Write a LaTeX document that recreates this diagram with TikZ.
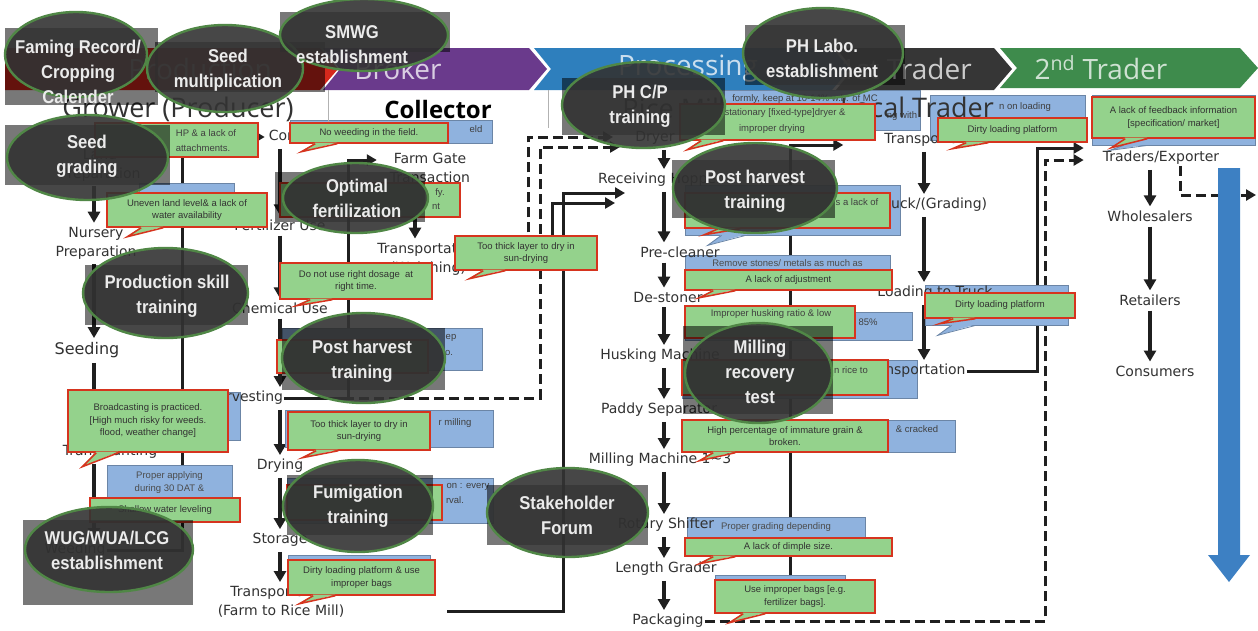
\documentclass[tikz,border=0pt]{standalone}
\usepackage{fontspec}
\setmainfont{DejaVu Sans}
\newfontfamily\stagefont{DejaVu Sans}
\newfontfamily\headfont{Open Sans}
\newfontfamily\ovalfont[FakeStretch=0.9]{Liberation Sans}
\newfontfamily\notefont{Liberation Sans}
\usetikzlibrary{arrows.meta,shapes.geometric,calc}

\definecolor{bandred}{RGB}{214,40,28}
\definecolor{bandpurple}{RGB}{106,58,140}
\definecolor{bandblue}{RGB}{46,127,189}
\definecolor{banddark}{RGB}{54,54,54}
\definecolor{bandgreen}{RGB}{62,139,76}
\definecolor{notegreen}{RGB}{148,210,140}
\definecolor{notered}{RGB}{214,52,30}
\definecolor{boxblue}{RGB}{143,178,222}
\definecolor{ovalfill}{RGB}{51,51,51}
\definecolor{ovalrim}{RGB}{80,135,70}
\definecolor{rectgrey}{RGB}{120,120,120}
\definecolor{arrowblue}{RGB}{61,128,195}
\definecolor{inkgrey}{RGB}{50,50,50}

\pgfdeclarelayer{bg}
\pgfdeclarelayer{lines}
\pgfsetlayers{bg,lines,main}

\tikzset{
  stage/.style={font=\stagefont\fontsize{14}{19}\selectfont, text=inkgrey, align=center, inner sep=1pt},
  flow/.style={draw=black!88, line width=3.2pt, -{Triangle[width=12pt,length=11pt]}, shorten <=4pt, shorten >=3pt},
  link/.style={draw=black!88, line width=3pt},
  linkarrow/.style={link, -{Triangle[width=11pt,length=10pt]}},
  dashlink/.style={link, dash pattern=on 10pt off 5pt},
  dasharrow/.style={dashlink, -{Triangle[width=11pt,length=10pt]}},
  greenbox/.style={rectangle, fill=notegreen, draw=notered, line width=1.5pt, inner sep=1pt,
    font=\notefont\fontsize{9.5}{12.5}\selectfont, text=black!80, align=center},
  bluebox/.style={rectangle, fill=boxblue, draw=boxblue!75!black, line width=0.8pt, inner sep=1pt,
    font=\notefont\fontsize{9.5}{12.5}\selectfont, text=black!70, align=center},
  notetext/.style={font=\notefont\fontsize{9.5}{12.5}\selectfont, text=black!75, align=center, inner sep=0pt},
  greyshade/.style={rectangle, fill=rectgrey, inner sep=0pt},
  oval/.style={ellipse, fill=ovalfill, fill opacity=0.9, draw=ovalrim, draw opacity=1, line width=2.4pt, inner sep=0pt},
  ovaltext/.style={font=\ovalfont\bfseries\fontsize{18.5}{25}\selectfont, text=white!92!black, align=center, inner sep=0pt},
  bandtext/.style={font=\headfont\fontsize{28}{30}\selectfont, text=white, text opacity=0.75, inner sep=0pt},
  headtext/.style={font=\headfont\fontsize{27}{30}\selectfont, text=inkgrey, inner sep=0pt},
}

% note boxes, their pointer tails, grey panels and ovals
\newcommand{\bluenote}[6]{\node[bluebox, minimum width=#4pt, minimum height=#5pt] (#1) at (#2,#3) {#6};}
\newcommand{\bluetail}[3]{%
  \fill[boxblue] ($(#1.south west)+(#2+14,-1)$) -- ($(#1.south west)+(#2,#3)$) -- ($(#1.south west)+(#2+38,-1)$) -- cycle;
  \draw[boxblue!75!black, line width=0.8pt] ($(#1.south west)+(#2+14,0)$) -- ($(#1.south west)+(#2,#3)$) -- ($(#1.south west)+(#2+38,0)$);}
\newcommand{\greennote}[6]{\node[greenbox, minimum width=#4pt, minimum height=#5pt] (#1) at (#2,#3) {#6};}
\newcommand{\greentail}[3]{%
  \fill[notegreen] ($(#1.south west)+(#2+14,-1.2)$) -- ($(#1.south west)+(#2,#3)$) -- ($(#1.south west)+(#2+36,-1.2)$) -- cycle;
  \draw[notered, line width=1.5pt] ($(#1.south west)+(#2+14,0)$) -- ($(#1.south west)+(#2,#3)$) -- ($(#1.south west)+(#2+36,0)$);}
\newcommand{\shadebox}[5]{\node[greyshade, minimum width=#4pt, minimum height=#5pt] (#1) at (#2,#3) {};}
\newcommand{\ovalnode}[5]{\node[oval, minimum width=#4pt, minimum height=#5pt] (#1) at (#2,#3) {};}

\begin{document}
\begin{tikzpicture}[x=1pt,y=-1pt]
\begin{pgfonlayer}{bg}
  \fill[white] (0,0) rectangle (1258,630);
\end{pgfonlayer}
\useasboundingbox (0,0) rectangle (1258,630);

% ---------- stage banner ----------
\fill[bandred] (5,48) -- (320,48) -- (338,69) -- (320,90) -- (5,90) -- cycle;
\fill[bandpurple] (323,48) -- (529,48) -- (547,69) -- (529,90) -- (323,90) -- (340,69) -- cycle;
\fill[bandblue] (534,48) -- (832,48) -- (850,69) -- (832,90) -- (534,90) -- (551,69) -- cycle;
\fill[banddark] (836,48) -- (994,48) -- (1012,69) -- (994,90) -- (836,90) -- (853,69) -- cycle;
\fill[bandgreen] (1000,48) -- (1240,48) -- (1258,68) -- (1240,88) -- (1000,88) -- (1017,68) -- cycle;
\node[bandtext] (b-prod) at (200,69) {Production};
\node[bandtext] (b-broker) at (398,69) {Broker};
\node[bandtext] (b-proc) at (688,69) {Processing};
\node[bandtext] (b-trader1) at (906,69) {1st Trader};
\node[bandtext] (b-trader2) at (1101,68) {2\textsuperscript{nd} Trader};

% ---------- background notes ----------
\bluenote{bweed}{391}{131.5}{202}{23}{}
\bluenote{bland}{187}{189.5}{95}{13}{}
\bluenote{bph1}{382}{349}{200}{42}{}
\bluenote{bbroad}{205}{416}{70}{48}{}
\bluenote{bapply}{169.5}{482.5}{125}{35}{Proper applying\\during 30 DAT \&}
\bluenote{bmill}{389}{428.5}{208}{37}{}
\bluenote{bfumi}{390}{500.5}{206}{45}{}
\bluenote{bdirty}{359}{562}{142}{14}{}
\bluenote{bdryer}{820}{110}{200}{40}{}
\bluenote{bph2}{792.5}{210}{215}{50}{}
\bluetail{bph2}{23}{10}
\bluenote{bstone}{787.5}{263.5}{205}{17}{Remove stones/ metals as much as}
\bluenote{bhusk}{798.5}{326}{227}{28}{}
\bluenote{brice}{799.5}{379}{235}{38}{}
\bluenote{bcrack}{818.5}{436}{273}{32}{}
\bluenote{bgrade}{776}{527}{178}{20}{Proper grading depending}
\bluenote{bbags}{780}{581}{130}{12}{}
\bluenote{bload1}{1007.5}{117.5}{155}{45}{}
\bluenote{bfeed}{1173.5}{120}{163}{50}{}
\bluetail{bfeed}{18}{5}
\bluenote{bload2}{996.5}{305}{143}{40}{}
\bluetail{bload2}{13}{10}
\node[notetext] (bf-eld) at (476,129) {eld};
\node[notetext] (bf-ep) at (451,338) {ep};
\node[notetext] (bf-o) at (449,353) {o.};
\node[notetext] (bf-mill) at (455,423) {r milling};
\node[notetext] (bf-every) at (468,487) {on : every};
\node[notetext] (bf-rval) at (455,500) {rval.};
\node[notetext] (bf-mc) at (805,99) {formly, keep at 10-14\% w.b. of MC};
\node[notetext] (bf-with) at (902,116) {ng with};
\node[notetext] (bf-85) at (868,322) {85\%};
\node[notetext] (bf-crack) at (917,429) {\& cracked};
\node[notetext] (bf-loading) at (1025,107) {n on loading};

% market flow arrow
\fill[arrowblue] (1218,168) -- (1240,168) -- (1240,555) -- (1250,555) -- (1229,582) -- (1208,555) -- (1218,555) -- cycle;

% ---------- column headings ----------
\draw[black!30, line width=0.6pt] (328,90) -- (328,124) (548,90) -- (548,128);
\node[headtext] (h-grower) at (178,109) {Grower (Producer)};
\node[headtext, font=\headfont\bfseries\fontsize{24}{26}\selectfont, text=black] (h-collector) at (438,109) {Collector};
\node[headtext] (h-rice) at (674,108) {Rice Mill};
\node[headtext] (h-local) at (917,107) {Local Trader};

% ---------- stages ----------
\node[stage] (landprep) at (100,165) {Land\\Preparation};
\node[stage] (nursery) at (96,243) {Nursery\\Preparation};
\node[stage, font=\stagefont\fontsize{16}{19}\selectfont] (seeding) at (87,350) {Seeding};
\node[stage] (transplant) at (110,452) {Transplanting};
\node[stage] (weeding) at (75,550) {Weeding};

\node[stage] (compost) at (300,137) {Compost};
\node[stage] (fertilizer) at (280,225) {Fertilizer Use};
\node[stage] (chemical) at (280,308) {Chemical Use};
\node[stage] (harvesting) at (245,398) {Harvesting};
\node[stage] (drying) at (280,466) {Drying};
\node[stage] (storage) at (280,540) {Storage};
\node[stage] (transport1) at (281,602) {Transportation\\(Farm to Rice Mill)};

\node[stage] (farmgate) at (430,168) {Farm Gate\\Transaction};
\node[stage] (transportc) at (428,259) {Transportation\\(Weighing)};

\node[stage] (dryer) at (655,138) {Dryer};
\node[stage] (receiving) at (660,180) {Receiving Hopper};
\node[stage] (precleaner) at (680,252) {Pre-cleaner};
\node[stage] (destoner) at (668,297) {De-stoner};
\node[stage] (husking) at (660,356) {Husking Machine};
\node[stage] (paddy) at (659,410) {Paddy Separator};
\node[stage] (milling) at (660,460) {Milling Machine 1\textasciitilde3};
\node[stage] (rotary) at (666,525) {Rotary Shifter};
\node[stage] (length) at (666,569) {Length Grader};
\node[stage] (packaging) at (668,621) {Packaging};

\node[stage] (transl1) at (935,140) {Transportation};
\node[stage] (truck) at (933,205) {Truck/(Grading)};
\node[stage] (loading) at (935,293) {Loading to Truck};
\node[stage] (transl2) at (915,371) {Transportation};

\node[stage] (traders) at (1161,158) {Traders/Exporter};
\node[stage] (wholesalers) at (1150,216) {Wholesalers};
\node[stage] (retailers) at (1150,300) {Retailers};
\node[stage] (consumers) at (1155,371) {Consumers};

% ---------- arrows and links ----------
\coordinate (colA) at (94,0);
\coordinate (colB) at (280,0);
\coordinate (colC) at (415,0);
\coordinate (colD) at (664,0);
\coordinate (colE) at (924,0);
\coordinate (colF) at (1150,0);
\coordinate (t1out) at (447,611);
\coordinate (recvA) at (625,193);
\coordinate (recvB) at (615,203);
\coordinate (dryA) at (613,137);
\coordinate (dryB) at (620,147);
\coordinate (millup) at (790,590);
\coordinate (expout) at (1256,195);
\coordinate (a1) at (182,550);
\coordinate (a2) at (182,137);
\coordinate (b1) at (348,398);
\coordinate (b2) at (348,160);
\coordinate (c1) at (540,398);
\coordinate (c2) at (540,147);
\coordinate (d1) at (528,259);
\coordinate (d2) at (528,137);
\coordinate (e1) at (552,259);
\coordinate (e2) at (552,203);
\coordinate (f1) at (563,611);
\coordinate (f2) at (563,193);
\coordinate (g1) at (790,145);
\coordinate (h1) at (1037,371);
\coordinate (h2) at (1037,148);
\coordinate (k1) at (1045,621);
\coordinate (k2) at (1045,160);
\coordinate (m1) at (1180,195);

\begin{pgfonlayer}{lines}
  \foreach \a/\b/\c in {landprep/nursery/colA, nursery/seeding/colA, seeding/transplant/colA, transplant/weeding/colA,
      compost/fertilizer/colB, fertilizer/chemical/colB, chemical/harvesting/colB, harvesting/drying/colB,
      drying/storage/colB, storage/transport1/colB, farmgate/transportc/colC,
      dryer/receiving/colD, receiving/precleaner/colD, precleaner/destoner/colD, destoner/husking/colD,
      husking/paddy/colD, paddy/milling/colD, milling/rotary/colD, rotary/length/colD, length/packaging/colD,
      transl1/truck/colE, truck/loading/colE, loading/transl2/colE,
      traders/wholesalers/colF, wholesalers/retailers/colF, retailers/consumers/colF}
    \draw[flow] (\a.south -| \c) -- (\b.north -| \c);

  \draw[linkarrow, shorten >=3pt] (weeding.east) -- (a1) -- (a2) -- (compost.west);
  \draw[dasharrow] (harvesting.east) -- (c1) -- (c2) -- (dryB);
  \draw[linkarrow, shorten >=12pt] (harvesting.east) -- (b1) -- (b2) -- (b2 -| farmgate.west);
  \draw[dasharrow] (transportc.east) -- (d1) -- (d2) -- (dryA);
  \draw[linkarrow] (transportc.east) -- (e1) -- (e2) -- (recvB);
  \draw[linkarrow] (t1out) -- (f1) -- (f2) -- (recvA);
  \draw[linkarrow, shorten >=40pt] (millup) -- (g1) -- (g1 -| transl1.west);
  \draw[linkarrow, shorten >=18pt] (transl2.east) -- (h1) -- (h2) -- (h2 -| traders.west);
  \draw[dasharrow, shorten >=18pt] (packaging.east) -- (k1) -- (k2) -- (k2 -| traders.west);
  \draw[dasharrow] (traders.south -| m1) -- (m1) -- (expout);
\end{pgfonlayer}

% ---------- problem notes ----------
\greennote{callhp}{176.5}{140}{163}{34}{}
\node[notetext] (gf-hp1) at (206,133) {HP \& a lack of};
\node[notetext] (gf-hp2) at (203,148) {attachments.};
\greennote{callweed}{369}{133}{158}{20}{No weeding in the field.}
\greentail{callweed}{12}{8}
\greennote{callland}{187}{210}{160}{34}{Uneven land level\& a lack of\\water availability}
\greentail{callland}{21}{9}
\greennote{callfert}{370}{200}{180}{34}{}
\node[notetext] (gf-fy) at (440,193) {fy.};
\node[notetext] (gf-nt) at (436,206) {nt};
\greennote{callthick}{526}{253}{142}{34}{Too thick layer to dry in\\sun-drying}
\greentail{callthick}{15}{8}
\greennote{calldose}{356}{281}{152}{36}{Do not use right dosage\ \ at\\right time.}
\greentail{calldose}{17}{6}
\greennote{callph1}{352.5}{356.5}{151}{33}{}
\greennote{callbroad}{148}{421}{160}{62}{Broadcasting is practiced.\\{[}High much risky for weeds.\\flood, weather change]}
\greentail{callbroad}{15}{14}
\greennote{callshallow}{165}{510}{150}{24}{Shallow water leveling}
\greennote{callthick2}{359}{431}{142}{38}{Too thick layer to dry in\\sun-drying}
\greentail{callthick2}{15}{7}
\greennote{callfumi}{364.5}{502.5}{155}{35}{}
\greennote{calldirty}{361.5}{577.5}{147}{35}{Dirty loading platform \& use\\improper bags}
\greentail{calldirty}{12}{8}
\greennote{calldryer}{777.5}{122}{195}{36}{}
\greentail{calldryer}{8}{9}
\node[notetext] (gf-dryer1) at (785,113) {stationary {[}fixed-type]dryer \&};
\node[notetext] (gf-dryer2) at (772,129) {improper drying};
\greennote{callph2}{787.5}{210.5}{205}{35}{}
\greentail{callph2}{20}{6}
\node[notetext] (gf-lack) at (857,202) {s a lack of};
\greennote{calladjust}{788.5}{280}{207}{20}{A lack of adjustment}
\greentail{calladjust}{15}{7}
\greennote{callhusk}{770}{322}{170}{32}{}
\node[notetext] (gf-husk) at (771,314) {Improper husking ratio \& low};
\greennote{callrice}{785}{377.5}{206}{35}{}
\node[notetext] (gf-rice) at (851,370) {n rice to};
\greennote{callimm}{785}{436}{206}{32}{High percentage of immature grain \&\\broken.}
\greentail{callimm}{18}{8}
\greennote{calldimple}{788.5}{547}{207}{18}{A lack of dimple size.}
\greentail{calldimple}{15}{7}
\greennote{callbags}{795}{596.5}{160}{33}{Use improper bags [e.g.\\fertilizer bags].}
\greentail{callbags}{15}{9}
\greennote{callload1}{1012.5}{130}{149}{24}{Dirty loading platform}
\greentail{callload1}{15}{6}
\greennote{callfeed}{1173.5}{117.5}{163}{41}{A lack of feedback information\\{[}specification/ market]}
\greentail{callfeed}{20}{9}
\greennote{callload2}{1000}{305.5}{150}{25}{Dirty loading platform}
\greentail{callload2}{15}{5}

% ---------- grey panels behind the measures ----------
\begin{scope}[blend mode=multiply]
  \shadebox{s-faming}{81.5}{66.5}{153}{77}
  \shadebox{s-seedmult}{240}{67}{170}{50}
  \shadebox{s-smwg}{365}{32}{170}{40}
  \shadebox{s-seedgrade}{87.5}{155}{165}{60}
  \shadebox{s-optfert}{350}{197}{150}{50}
  \shadebox{s-prodskill}{166.5}{295}{163}{60}
  \shadebox{s-phleft}{363.5}{359}{163}{62}
  \shadebox{s-phcp}{643.5}{106.5}{163}{57}
  \shadebox{s-phlabo}{825}{55}{160}{60}
  \shadebox{s-phmid}{753.5}{189}{163}{58}
  \shadebox{s-milling}{758}{370}{150}{88}
  \shadebox{s-fumi}{360}{505}{146}{60}
  \shadebox{s-stake}{567.5}{515}{161}{60}
  \shadebox{s-wug}{108}{562.5}{170}{85}
\end{scope}

% ---------- measures ----------
\ovalnode{o-faming}{76}{54.5}{142}{85}
\ovalnode{o-seedmult}{225}{68.5}{156}{87}
\ovalnode{o-smwg}{364}{35}{168}{72}
\ovalnode{o-seedgrade}{87.5}{157.5}{161}{85}
\ovalnode{o-optfert}{355.5}{198}{145}{70}
\ovalnode{o-prodskill}{165.5}{293}{165}{90}
\ovalnode{o-phleft}{363.5}{358}{163}{90}
\ovalnode{o-phcp}{643.5}{105}{163}{86}
\ovalnode{o-phlabo}{823}{53}{160}{90}
\ovalnode{o-phmid}{755}{188}{164}{90}
\ovalnode{o-milling}{758.5}{373}{147}{100}
\ovalnode{o-fumi}{358}{506}{150}{92}
\ovalnode{o-stake}{567.5}{512.5}{161}{89}
\ovalnode{o-wug}{109}{549.5}{168}{85}

\node[ovaltext] (t-faming) at (78,72) {Faming Record/\\Cropping\\Calender};
\node[ovaltext] (t-seedmult) at (228,70) {Seed\\multiplication};
\node[ovaltext] (t-smwg) at (352,45) {SMWG\\establishment};
\node[ovaltext] (t-seedgrade) at (87,156) {Seed\\grading};
\node[ovaltext] (t-optfert) at (357,198) {Optimal\\fertilization};
\node[ovaltext] (t-prodskill) at (167,296) {Production skill\\training};
\node[ovaltext] (t-phleft) at (362,361) {Post harvest\\training};
\node[ovaltext] (t-phcp) at (640,106) {PH C/P\\training};
\node[ovaltext] (t-phlabo) at (822,58) {PH Labo.\\establishment};
\node[ovaltext] (t-phmid) at (755,191) {Post harvest\\training};
\node[ovaltext] (t-milling) at (760,372) {Milling\\recovery\\test};
\node[ovaltext] (t-fumi) at (358,506) {Fumigation\\training};
\node[ovaltext] (t-stake) at (567,515) {Stakeholder\\Forum};
\node[ovaltext] (t-wug) at (107,550) {WUG/WUA/LCG\\establishment};
\end{tikzpicture}
\end{document}
